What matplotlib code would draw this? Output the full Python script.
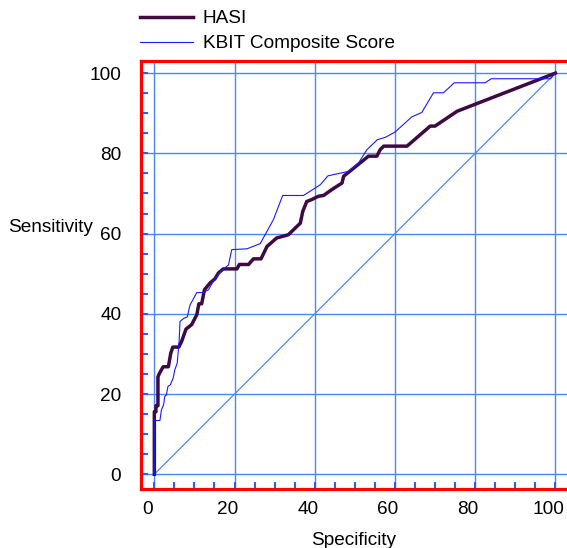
import matplotlib
matplotlib.use("Agg")
import matplotlib.pyplot as plt
import matplotlib.transforms as mtransforms
from matplotlib.ticker import MultipleLocator

plt.rcParams['font.family'] = ['Liberation Sans', 'DejaVu Sans']

hasi_x = [0, 0, 0.4, 0.4, 0.9, 0.9, 1.3, 2.2, 3.5, 4.1, 4.6, 6.1, 6.8, 7.9, 9.3,
          10.6, 11.1, 11.8, 12.5, 13.9, 15.1, 16.0, 17.2, 20.6, 21.2, 23.5, 24.7,
          26.6, 28.1, 30.5, 33.4, 36.4, 37.0, 38.0, 39.3, 40.9, 42.2, 44.3, 46.8,
          47.2, 51.3, 53.4, 55.5, 56.3, 57.2, 63.0, 68.8, 70.0, 75.5, 100]
hasi_y = [0, 15.6, 15.6, 17.1, 17.1, 24.3, 25.2, 26.8, 26.8, 30.2, 31.7, 31.7, 33.1,
          36.2, 37.3, 39.8, 42.5, 42.5, 46.0, 47.7, 48.7, 50.2, 51.2, 51.2, 52.3,
          52.3, 53.7, 53.7, 56.8, 58.9, 59.7, 62.6, 65.5, 68.0, 68.5, 69.3, 69.5,
          71.0, 72.6, 74.3, 77.6, 79.3, 79.3, 80.9, 81.8, 81.8, 86.8, 86.8, 90.5, 100]

kbit_x = [0, 0, 1.4, 1.75, 2.3, 2.6, 3.0, 3.4, 4.0, 4.7, 5.1, 5.7, 6.2, 6.4, 7.4,
          8.2, 8.9, 10.6, 12.2, 13.5, 14.7, 16.6, 18.5, 19.3, 23.1, 26.4, 29.7,
          32.0, 37.2, 41.4, 43.3, 48.4, 50.9, 53.0, 55.6, 57.6, 60.0, 64.2, 66.7,
          69.6, 72.1, 74.8, 82.5, 84.0, 98.8, 100]
kbit_y = [0, 13.4, 13.4, 16.0, 17.3, 19.4, 19.8, 21.9, 22.3, 24.0, 26.0, 27.7, 33.5,
          38.1, 38.9, 39.2, 42.2, 45.3, 45.3, 46.0, 48.1, 50.6, 52.2, 56.0, 56.2,
          57.5, 63.5, 69.5, 69.5, 72.2, 74.4, 75.5, 77.6, 80.9, 83.4, 84.0, 85.3,
          89.1, 90.2, 95.1, 95.1, 97.6, 97.6, 98.6, 98.6, 100]

diag = [0, 100]
ticks = [0, 20, 40, 60, 80, 100]
tick_labels = ['0', '20', '40', '60', '80', '100']
series_names = ['HASI', 'KBIT Composite Score']

FS = 13.7
W, H = 567, 548
fig = plt.figure(figsize=(W / 100, H / 100), dpi=100)
ax = fig.add_axes([140.7 / W, 59.3 / H, 1.0 - 140.7 / W, (488.7 - 60.7) / H])
ax.set_xlim(-3.4, 102.9)
ax.set_ylim(-3.6, 103.1)

grid_c = '#4a86ff'
ax.set_xticks(ticks)
ax.set_xticklabels(tick_labels)
ax.set_yticks(ticks)
ax.set_yticklabels(tick_labels)
ax.xaxis.set_minor_locator(MultipleLocator(5))
ax.yaxis.set_minor_locator(MultipleLocator(5))
ax.grid(True, which='major', color=grid_c, linewidth=1.0)
ax.set_axisbelow(True)
ax.tick_params(which='both', direction='in', color='#1a66ff', width=1.5,
               length=5, labelsize=FS, top=False, right=False)
ax.tick_params(axis='y', which='major', pad=14)
ax.tick_params(axis='x', which='major', pad=9)

off = mtransforms.ScaledTranslation(-0.07, 0, fig.dpi_scale_trans)
for lab in ax.get_xticklabels():
    lab.set_transform(lab.get_transform() + off)

for s in ['left', 'top', 'bottom']:
    ax.spines[s].set_color('#ff0000')
    ax.spines[s].set_linewidth(2.3)
ax.spines['right'].set_visible(False)

ax.plot(diag, diag, color=grid_c, linewidth=0.9)
l1, = ax.plot(hasi_x, hasi_y, color='#3d0a42', linewidth=2.5, label=series_names[0])
l2, = ax.plot(kbit_x, kbit_y, color='#1a1aff', linewidth=0.8, label=series_names[1])

ax.set_xlabel('Specificity', fontsize=FS, labelpad=10)
ax.set_ylabel('Sensitivity', fontsize=FS, rotation=0, ha='center', va='center')
ax.yaxis.label.set_transform(fig.transFigure)
ax.yaxis.label.set_position((51 / W, (548 - 228) / H))
ax.yaxis.set_label_coords(51 / W, (548 - 228) / H, transform=fig.transFigure)

fig.legend(handles=[l1, l2], loc='upper left', bbox_to_anchor=(140 / W, 1 - 10 / H),
           frameon=False, fontsize=FS, handlelength=2.8, handletextpad=0.5,
           borderpad=0, borderaxespad=0, labelspacing=0.4)

fig.savefig('out.png', dpi=100)
